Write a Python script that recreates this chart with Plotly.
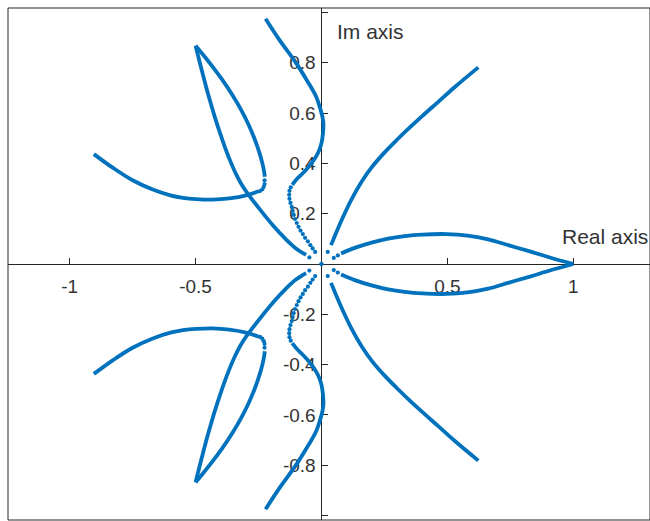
import plotly.graph_objects as go

# Root-locus branches in the upper half plane (real part, imaginary part).
# The lower half is the complex conjugate of each branch.
lobe_re = [0.078, 0.132, 0.199, 0.265, 0.331, 0.400, 0.497, 0.580, 0.662,
           0.745, 0.828, 0.910, 1.0]
lobe_im = [0.042, 0.064, 0.085, 0.101, 0.111, 0.117, 0.119, 0.113, 0.098,
           0.074, 0.050, 0.025, 0.0]

ray_re = [0.038, 0.079, 0.120, 0.160, 0.200, 0.250, 0.300, 0.350, 0.400,
          0.464, 0.530, 0.623]
ray_im = [0.075, 0.172, 0.258, 0.328, 0.385, 0.443, 0.494, 0.542, 0.588,
          0.645, 0.704, 0.782]

inner_re = [-0.116, -0.100, -0.080, -0.061, -0.040, -0.021, -0.008, 0.001,
            0.006, 0.008, 0.004, -0.003, -0.021, -0.054, -0.100, -0.167, -0.222]
inner_im = [0.315, 0.335, 0.355, 0.375, 0.400, 0.428, 0.455, 0.485,
            0.520, 0.555, 0.585, 0.612, 0.665, 0.724, 0.798, 0.891, 0.975]

loop_left_re = [-0.500, -0.486, -0.470, -0.455, -0.440, -0.424, -0.406,
                -0.386, -0.366, -0.345, -0.320, -0.293, -0.246, -0.193,
                -0.140, -0.100, -0.061]
loop_left_im = [0.868, 0.812, 0.750, 0.693, 0.640, 0.586, 0.530,
                0.472, 0.419, 0.370, 0.321, 0.280, 0.219, 0.154,
                0.097, 0.061, 0.036]

loop_right_re = [-0.500, -0.470, -0.435, -0.395, -0.355, -0.318, -0.288,
                 -0.264, -0.246, -0.234, -0.227, -0.225]
loop_right_im = [0.868, 0.832, 0.788, 0.734, 0.674, 0.611, 0.551,
                 0.493, 0.441, 0.398, 0.363, 0.347]

tail_re = [-0.250, -0.299, -0.366, -0.432, -0.498, -0.550, -0.600, -0.670,
           -0.750, -0.829, -0.904]
tail_im = [0.289, 0.273, 0.261, 0.256, 0.258, 0.263, 0.273, 0.296,
           0.333, 0.383, 0.437]

# Sparse samples where the roots move quickly
dots_re = [0.0, 0.025, 0.049, 0.065, -0.048,
           -0.122, -0.127, -0.128, -0.127, -0.123, -0.118, -0.114, -0.110,
           -0.105, -0.098, -0.091, -0.083, -0.074, -0.065, -0.054, -0.044,
           -0.035, -0.025,
           -0.226, -0.226, -0.229, -0.235, -0.244]
dots_im = [0.0, 0.048, 0.024, 0.034, 0.026,
           0.305, 0.291, 0.275, 0.259, 0.243, 0.227, 0.211, 0.195,
           0.179, 0.163, 0.148, 0.133, 0.119, 0.104, 0.090, 0.075,
           0.062, 0.048,
           0.333, 0.318, 0.307, 0.297, 0.290]

x_ticks = [-1, -0.5, 0, 0.5, 1]
x_labels = ["-1", "-0.5", "", "0.5", "1"]
y_ticks = [-1, -0.8, -0.6, -0.4, -0.2, 0, 0.2, 0.4, 0.6, 0.8, 1]
y_labels = ["", "-0.8", "-0.6", "-0.4", "-0.2", "", "0.2", "0.4", "0.6", "0.8", ""]

BLUE = "#0072BD"
AXC = "#262626"
TXT = "#333333"
FONT = "Liberation Sans, Arial, sans-serif"
x_range = [-1.245, 1.305]
y_range = [-1.018, 1.018]

fig = go.Figure()

branches = [(lobe_re, lobe_im), (ray_re, ray_im), (inner_re, inner_im),
            (loop_left_re, loop_left_im), (loop_right_re, loop_right_im),
            (tail_re, tail_im)]
for re, im in branches:
    for sign in (1, -1):
        fig.add_trace(go.Scatter(
            x=re, y=[sign * v for v in im], mode="lines",
            line=dict(color=BLUE, width=3.8, shape="spline", smoothing=1.0),
            hoverinfo="skip", showlegend=False))

for sign in (1, -1):
    fig.add_trace(go.Scatter(
        x=dots_re, y=[sign * v for v in dots_im], mode="markers",
        marker=dict(color=BLUE, size=4.2, line=dict(width=0)),
        hoverinfo="skip", showlegend=False))

font_ticks = dict(family=FONT, size=19, color=TXT)

fig.update_layout(
    width=650, height=521,
    margin=dict(l=8, r=0, t=8, b=1),
    paper_bgcolor="white", plot_bgcolor="white",
    xaxis=dict(
        range=x_range, anchor="free",
        position=(0 - y_range[0]) / (y_range[1] - y_range[0]),
        showgrid=False, zeroline=False,
        showline=True, linecolor=AXC, linewidth=1,
        ticks="inside", ticklen=6, tickcolor=AXC, tickwidth=1,
        tickvals=x_ticks, ticktext=x_labels, tickfont=font_ticks,
        ticklabelstandoff=5, layer="below traces", fixedrange=True),
    yaxis=dict(
        range=y_range, anchor="free",
        position=(0 - x_range[0]) / (x_range[1] - x_range[0]),
        showgrid=False, zeroline=False,
        showline=True, linecolor=AXC, linewidth=1,
        ticks="inside", ticklen=6, tickcolor=AXC, tickwidth=1,
        tickvals=y_ticks, ticktext=y_labels, tickfont=font_ticks,
        ticklabelstandoff=2, layer="below traces", fixedrange=True),
    shapes=[dict(type="rect", xref="paper", yref="paper", x0=0, x1=1, y0=0, y1=1,
                 line=dict(color=AXC, width=1), layer="below")],
    annotations=[
        dict(x=0.053, y=0.926, xref="x", yref="y", text="Im axis", showarrow=False,
             xanchor="left", yanchor="middle",
             font=dict(family=FONT, size=21, color=TXT)),
        dict(x=0.948, y=0.111, xref="x", yref="y", text="Real axis", showarrow=False,
             xanchor="left", yanchor="middle",
             font=dict(family=FONT, size=21, color=TXT)),
    ],
)

fig.write_html("out.html")
